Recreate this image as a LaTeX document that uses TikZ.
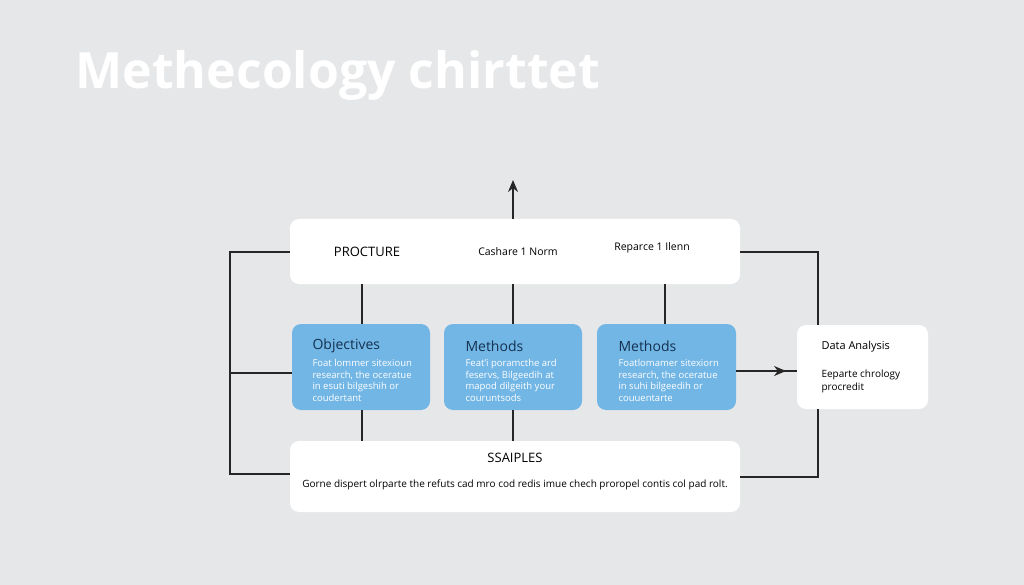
\documentclass[tikz,border=0pt]{standalone}
\usepackage{fontspec}
\setmainfont{Open Sans}
\usetikzlibrary{arrows.meta}
\definecolor{bgGray}{HTML}{E6E7E8}
\definecolor{boxBlue}{HTML}{72B6E6}
\definecolor{navyText}{HTML}{14314F}
\tikzset{
  panel/.style={draw=none, fill=white, rounded corners=9pt},
  bluebox/.style={draw=none, fill=boxBlue, rounded corners=9pt},
  link/.style={line width=1.3pt, black!85},
  head/.style={font=\fontsize{14}{16}\selectfont, text=navyText, anchor=west},
  body/.style={font=\fontsize{9.5}{11.5}\selectfont, text=white, anchor=north west, align=left}
}
\begin{document}
\begin{tikzpicture}[x=1pt, y=-1pt, >={Stealth[length=12pt,width=10pt]}]
            % Background
            \fill[bgGray] (0,0) rectangle (1024,585);
            \useasboundingbox (0,0) rectangle (1024,585);
            \node[anchor=west, text=white, font=\fontsize{50}{56}\selectfont\bfseries] (title) at (72,76) {Methecology chirttet};

            % Panels
            \fill[panel] (290,219) rectangle (740,284);
            \coordinate (topN) at (513,219);
            \fill[panel] (290,441) rectangle (740,512);
            \fill[panel] (797,325) rectangle (928,409);
            \fill[bluebox] (292,324) rectangle (430,410);
            \fill[bluebox] (444,324) rectangle (582,410);
            \fill[bluebox] (597,324) rectangle (736,410);

            % Labels
            \node[font=\fontsize{13}{15}\selectfont] (proc) at (367,252) {PROCTURE};
            \node[font=\fontsize{10.5}{12}\selectfont] (cash) at (518,252) {Cashare 1 Norm};
            \node[font=\fontsize{10.5}{12}\selectfont] (repl) at (652,248) {Reparce 1 Ilenn};
            \node[font=\fontsize{13}{15}\selectfont] (samp) at (515,458) {SSAIPLES};
            \node[font=\fontsize{10}{12}\selectfont] (note) at (515,485) {Gorne dispert olrparte the refuts cad mro cod redis imue chech proropel contis col pad rolt.};

            \node[head] (obj) at (309,346) {Objectives};
            \node[body] at (309,356) {Foat lommer sitexioun\\research, the oceratue\\in esuti bilgeshih or\\coudertant};
            \node[head] (meth) at (462,346) {Methods};
            \node[body] at (462,356) {Feat'i poramcthe ard\\feservs, Bilgeedih at\\mapod dilgeith your\\couruntsods};
            \node[head] (methb) at (615,346) {Methods};
            \node[body] at (615,356) {Foatlomamer sitexiorn\\research, the oceratue\\in suhi bilgeedih or\\couuentarte};

            \node[font=\fontsize{11}{13}\selectfont, anchor=west] (data) at (818,347) {Data Analysis};
            \node[font=\fontsize{10}{13.5}\selectfont, anchor=north west, align=left] at (818,366) {Eeparte chrology\\procredit};

            % Connectors
            \coordinate (up) at (513,180);
            \draw[link, ->] (topN) -- (up);
            \draw[link] (362,284) -- (362,324);
            \draw[link] (513,284) -- (513,324);
            \draw[link] (665,284) -- (665,324);
            \draw[link] (362,410) -- (362,441);
            \draw[link] (513,410) -- (513,441);
            \draw[link] (290,252) -- (230,252) -- (230,474) -- (290,474);
            \draw[link] (230,373) -- (292,373);
            \draw[link] (740,252) -- (818,252) -- (818,325);
            \draw[link] (818,409) -- (818,477) -- (740,477);
            \draw[link, ->] (736,371) -- (786,371);
            \draw[link] (780,371) -- (797,371);
\end{tikzpicture}
\end{document}
